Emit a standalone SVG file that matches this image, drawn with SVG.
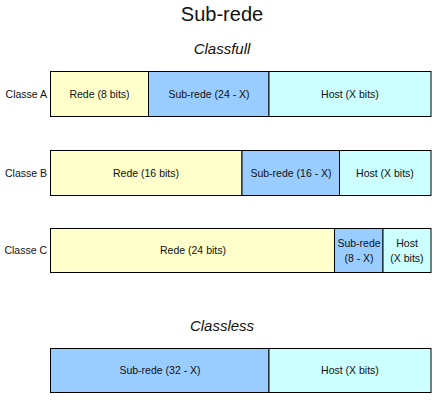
<svg xmlns="http://www.w3.org/2000/svg" width="444" height="406" viewBox="0 0 444 406">
<style>
text{font-family:"Liberation Sans",Arial,sans-serif;fill:#111}
.t{font-size:10.5px;text-anchor:middle;dominant-baseline:central}
.l{font-size:10.5px;text-anchor:end;dominant-baseline:central}
.h{font-size:15px;font-style:italic;text-anchor:middle}
.box{stroke:#000;stroke-width:1}
.y{fill:#FFFFCC}.b{fill:#99CCFF}.c{fill:#CCFFFF}
</style>
<rect width="444" height="406" fill="#fff"/>
<text x="222" y="21" font-size="20" text-anchor="middle">Sub-rede</text>
<text class="h" x="222" y="54">Classfull</text>
<text class="h" x="222" y="331">Classless</text>
<g id="classeA">
<text class="l" x="47" y="94">Classe A</text>
<rect class="box y" x="50.5" y="71.5" width="98" height="45"/>
<rect class="box b" x="148.5" y="71.5" width="120.5" height="45"/>
<rect class="box c" x="269" y="71.5" width="162" height="45"/>
<text class="t" x="99.5" y="94">Rede (8 bits)</text>
<text class="t" x="209" y="94">Sub-rede (24 - X)</text>
<text class="t" x="350" y="94">Host (X bits)</text>
</g>
<g id="classeB">
<text class="l" x="47" y="173">Classe B</text>
<rect class="box y" x="50.5" y="150.5" width="191.5" height="45"/>
<rect class="box b" x="242" y="150.5" width="97.5" height="45"/>
<rect class="box c" x="339.5" y="150.5" width="91.5" height="45"/>
<text class="t" x="146" y="173">Rede (16 bits)</text>
<text class="t" x="291" y="173">Sub-rede (16 - X)</text>
<text class="t" x="385" y="173">Host (X bits)</text>
</g>
<g id="classeC">
<text class="l" x="47" y="250">Classe C</text>
<rect class="box y" x="50.5" y="228.5" width="284" height="44"/>
<rect class="box b" x="334.5" y="228.5" width="48.5" height="44"/>
<rect class="box c" x="383" y="228.5" width="48" height="44"/>
<text class="t" x="193" y="250">Rede (24 bits)</text>
<text class="t" x="359" y="243">Sub-rede</text>
<text class="t" x="359" y="258">(8 - X)</text>
<text class="t" x="407" y="243">Host</text>
<text class="t" x="407" y="258">(X bits)</text>
</g>
<g id="classless">
<rect class="box b" x="50.5" y="348.5" width="218.5" height="44"/>
<rect class="box c" x="269" y="348.5" width="162" height="44"/>
<text class="t" x="160" y="370">Sub-rede (32 - X)</text>
<text class="t" x="350" y="370">Host (X bits)</text>
</g>
<g id="connectors"/>
</svg>
